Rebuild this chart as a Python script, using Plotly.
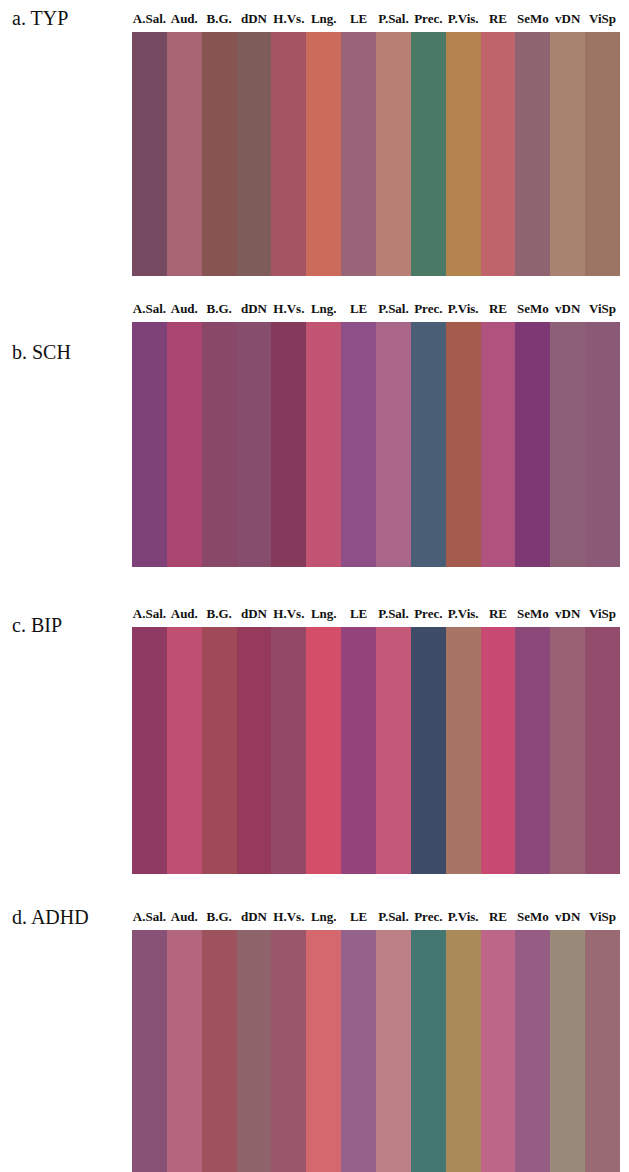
import plotly.graph_objects as go

categories = ["A.Sal.", "Aud.", "B.G.", "dDN", "H.Vs.", "Lng.", "LE", "P.Sal.",
              "Prec.", "P.Vis.", "RE", "SeMo", "vDN", "ViSp"]
bar_height = [1] * len(categories)

groups = ["a. TYP", "b. SCH", "c. BIP", "d. ADHD"]

colors_typ = ["#764a60", "#a86472", "#885452", "#7e5c5a", "#a45462", "#cc6a5c", "#9a6478",
              "#b88074", "#4a7a66", "#b4844e", "#c0646c", "#8e6470", "#a88470", "#9c7464"]
colors_sch = ["#7e4278", "#a84670", "#8a4868", "#864e6c", "#843a5a", "#c05472", "#8e4e88",
              "#aa6688", "#4a5e76", "#a45a4c", "#b0527e", "#7e3874", "#8e6078", "#8a5a76"]
colors_bip = ["#8e3a62", "#c05072", "#a04a58", "#963a5c", "#944868", "#d44e6a", "#94447a",
              "#c45878", "#3e4c68", "#a87464", "#c84a72", "#8c4878", "#9a6074", "#944c6c"]
colors_adhd = ["#885276", "#b4667e", "#9e525e", "#8e646a", "#9a566a", "#d4686e", "#94628a",
               "#bc8086", "#447672", "#aa8a58", "#be6688", "#965c84", "#9a8a7a", "#9a6a74"]
group_colors = [colors_typ, colors_sch, colors_bip, colors_adhd]

# page body has an 8px margin; work in page pixels and convert
OFF = 8
W, H = 629 - OFF, 1172 - OFF
x_dom = [(132 - OFF) / W, (620 - OFF) / W]
y_px = [(32, 276), (322, 567), (627, 874), (930, 1172)]
title_px = [18, 352, 625, 917]


def py(p):
    return 1 - (p - OFF) / H


fig = go.Figure()
for i, (g, cols) in enumerate(zip(groups, group_colors)):
    n = "" if i == 0 else str(i + 1)
    fig.add_trace(go.Bar(x=categories, y=bar_height, marker=dict(color=cols, line=dict(width=0)),
                         width=1, xaxis="x" + n, yaxis="y" + n, showlegend=False,
                         hoverinfo="x"))
    top, bot = y_px[i]
    fig.layout["xaxis" + n] = dict(domain=x_dom, anchor="y" + n, side="top",
                                   showgrid=False, zeroline=False, showline=False,
                                   ticks="", ticklabelstandoff=5,
                                   tickmode="array", tickvals=categories,
                                   ticktext=["<b>%s</b>" % c for c in categories],
                                   tickfont=dict(family="Liberation Serif", size=13, color="#111"),
                                   tickangle=0)
    fig.layout["yaxis" + n] = dict(domain=[max(0, py(bot)), py(top)], anchor="x" + n,
                                   range=[0, 1], visible=False)
    fig.add_annotation(text=g, xref="paper", yref="paper", x=(10 - OFF) / W, y=py(title_px[i]),
                       xanchor="left", yanchor="middle", showarrow=False,
                       font=dict(family="Liberation Serif", size=20, color="#111"))

fig.update_layout(width=W, height=H, margin=dict(l=0, r=0, t=0, b=0),
                  paper_bgcolor="white", plot_bgcolor="white", bargap=0)
fig.write_html("out.html")
